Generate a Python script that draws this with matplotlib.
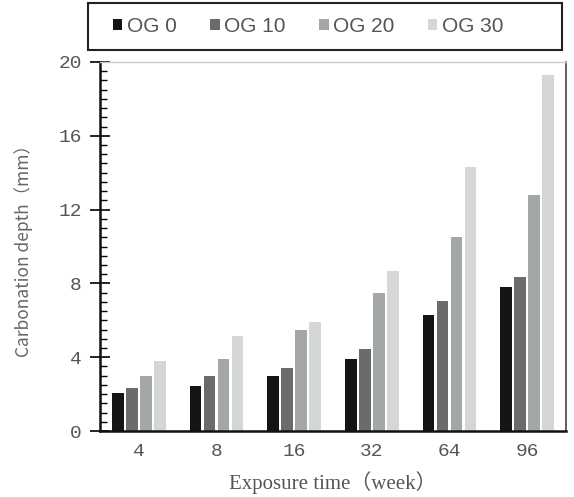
import matplotlib.pyplot as plt
import numpy as np
from matplotlib.patches import Rectangle
from matplotlib.ticker import MultipleLocator

# exposure time groups (weeks) and carbonation depth per OG replacement level
weeks = ['4', '8', '16', '32', '64', '96']
series_names = ['OG 0', 'OG 10', 'OG 20', 'OG 30']
og0 = [2.05, 2.45, 3.0, 3.9, 6.3, 7.8]
og10 = [2.35, 3.0, 3.4, 4.45, 7.05, 8.35]
og20 = [3.0, 3.9, 5.5, 7.5, 10.5, 12.8]
og30 = [3.8, 5.15, 5.9, 8.65, 14.3, 19.3]
colors = ['#141414', '#6b6b6b', '#a4a7a7', '#d5d7d7']

W, H = 574, 497
fig = plt.figure(figsize=(W / 100, H / 100), dpi=100)
ax = fig.add_axes([100 / W, 1 - 431 / H, 466 / W, 369 / H])

x = np.arange(len(weeks))
width = 0.15
step = 0.18
for i, (vals, name) in enumerate(zip([og0, og10, og20, og30], series_names)):
    ax.bar(x + (i - 1.5) * step, vals, width=width, color=colors[i],
           label=name, edgecolor='none')

ax.set_xlim(-0.5, len(weeks) - 0.5)
ax.set_ylim(0, 20)
ax.set_xticks(x)
ax.set_xticklabels(weeks)
ax.yaxis.set_major_locator(MultipleLocator(4))
ax.yaxis.set_minor_locator(MultipleLocator(0.5))
ax.tick_params(axis='x', length=0, pad=9)
ax.tick_params(axis='y', which='major', direction='inout', length=14, width=1.2, pad=6)
ax.tick_params(axis='y', which='minor', direction='in', length=5, width=1)
for lbl in ax.get_xticklabels() + ax.get_yticklabels():
    lbl.set_family('Liberation Mono')
    lbl.set_fontsize(14)
    lbl.set_color('#555555')

for side in ['left', 'bottom']:
    ax.spines[side].set_linewidth(1.8)
    ax.spines[side].set_color('#111111')
ax.spines['right'].set_color('#444444')
ax.spines['right'].set_linewidth(1.2)
ax.spines['top'].set_color('#cccccc')
ax.spines['top'].set_linewidth(1.0)

ax.set_ylabel('Carbonation depth（mm）', family=['Liberation Sans Narrow', 'Noto Sans CJK SC'],
              fontsize=12.5, color='#666666', labelpad=18)
ax.set_xlabel('Exposure time（week）', family=['Liberation Serif', 'Noto Sans CJK SC'],
              fontsize=15, color='#555555', labelpad=8)

# legend box drawn separately so the entries can sit inset from its edges
fig.patches.append(Rectangle((88 / W, 1 - 50 / H), 474 / W, 47 / H,
                             transform=fig.transFigure, fill=False,
                             edgecolor='#222222', linewidth=1.5))
leg = fig.legend(loc='center left', bbox_to_anchor=(113 / W, 1 - 50 / H, 390 / W, 47 / H),
                 mode='expand', ncol=4, frameon=False,
                 handlelength=0.45, handleheight=0.45, handletextpad=0.2,
                 borderaxespad=0, borderpad=0,
                 prop={'family': 'Liberation Sans', 'size': 15})
for t in leg.get_texts():
    t.set_color('#555555')

fig.savefig('out.png', dpi=100)
